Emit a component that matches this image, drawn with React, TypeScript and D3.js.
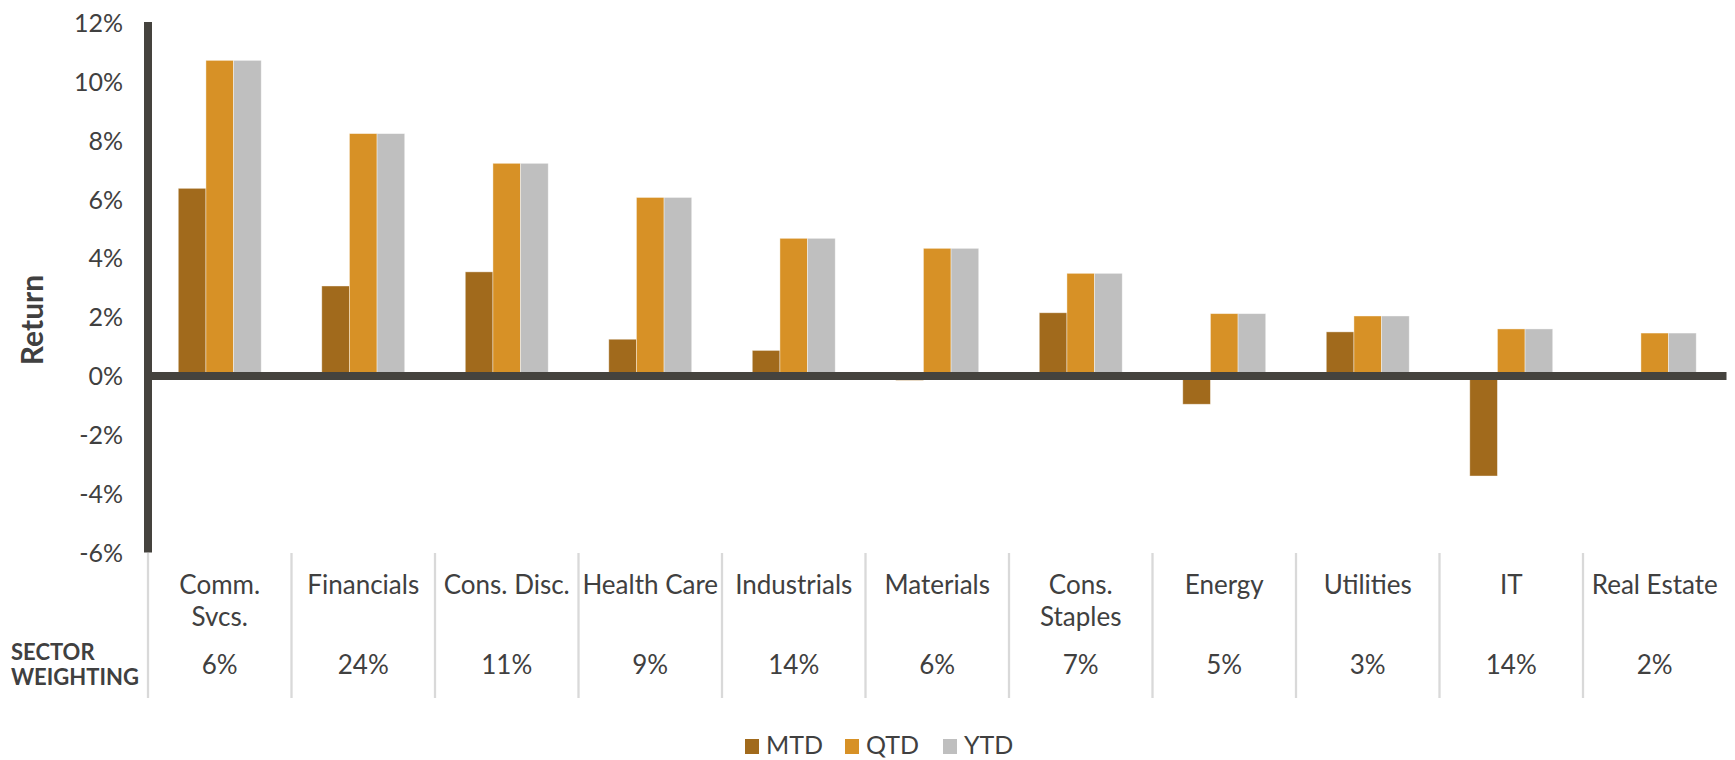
import React, { useEffect, useRef } from 'react';
import * as d3 from 'd3';

const categories = ['Comm.\nSvcs.', 'Financials', 'Cons. Disc.', 'Health Care', 'Industrials', 'Materials', 'Cons.\nStaples', 'Energy', 'Utilities', 'IT', 'Real Estate'];
const weightings = ['6%', '24%', '11%', '9%', '14%', '6%', '7%', '5%', '3%', '14%', '2%'];
const seriesNames = ['MTD', 'QTD', 'YTD'];
const mtd = [6.38, 3.06, 3.54, 1.25, 0.87, -0.15, 2.15, -0.96, 1.5, -3.4, 0];
const qtd = [10.73, 8.24, 7.23, 6.07, 4.68, 4.34, 3.49, 2.12, 2.04, 1.6, 1.46];
const ytd = [10.73, 8.24, 7.23, 6.07, 4.68, 4.34, 3.49, 2.12, 2.04, 1.6, 1.46];
const yTicks = [-6, -4, -2, 0, 2, 4, 6, 8, 10, 12];

const colors = ['#a16a1c', '#d79126', '#bfbfbf'];

export default function App() {
  const svgRef = useRef<SVGSVGElement>(null);

  useEffect(() => {
    if (!svgRef.current) return;
    const width = 1735;
    const height = 760;
    const font = 'Lato, sans-serif';
    const textColor = '#404040';
    const axisColor = '#45433e';

    const svg = d3.select(svgRef.current)
      .attr('width', width)
      .attr('height', height)
      .html('');

    const x0 = d3.scaleBand<string>().domain(categories).range([148, 1726.5]).padding(0);
    const x1 = d3.scaleBand<string>().domain(seriesNames)
      .range([x0.bandwidth() * 0.211, x0.bandwidth() * 0.789]).padding(0);
    const y = d3.scaleLinear().domain([-6, 12]).range([552.5, 23]);

    const series = [mtd, qtd, ytd];

    // bars
    const groups = svg.append('g').selectAll('g')
      .data(categories)
      .enter()
      .append('g')
      .attr('transform', d => `translate(${x0(d)},0)`);

    groups.selectAll('rect')
      .data((_, i) => series.map((s, k) => ({ name: seriesNames[k], v: s[i], k })))
      .enter()
      .append('rect')
      .attr('x', d => x1(d.name)!)
      .attr('width', x1.bandwidth())
      .attr('y', d => y(Math.max(0, d.v)))
      .attr('height', d => Math.abs(y(d.v) - y(0)))
      .attr('fill', d => colors[d.k])
      .attr('stroke', 'rgba(255,255,255,0.5)')
      .attr('stroke-width', 0.8);

    // y axis line
    svg.append('line')
      .attr('x1', 148).attr('x2', 148)
      .attr('y1', y(12) - 1).attr('y2', y(-6))
      .attr('stroke', axisColor).attr('stroke-width', 8);

    // zero line
    svg.append('line')
      .attr('x1', 144).attr('x2', 1726.5)
      .attr('y1', y(0)).attr('y2', y(0))
      .attr('stroke', axisColor).attr('stroke-width', 8);

    // tick labels
    svg.append('g').selectAll('text')
      .data(yTicks)
      .enter()
      .append('text')
      .attr('x', 123)
      .attr('y', d => y(d) + 9)
      .attr('text-anchor', 'end')
      .attr('font-family', font)
      .attr('font-size', 25)
      .attr('fill', textColor)
      .text(d => `${d}%`);

    // y title
    svg.append('text')
      .attr('transform', `translate(43, 320) rotate(-90)`)
      .attr('text-anchor', 'middle')
      .attr('font-family', font)
      .attr('font-weight', 'bold')
      .attr('font-size', 30)
      .attr('fill', textColor)
      .text('Return');

    // separators
    svg.append('g').selectAll('line')
      .data(categories)
      .enter()
      .append('line')
      .attr('x1', d => x0(d)!)
      .attr('x2', d => x0(d)!)
      .attr('y1', 553)
      .attr('y2', 698)
      .attr('stroke', '#d9d9d9')
      .attr('stroke-width', 2.3);

    // category labels
    const cat = svg.append('g').selectAll('text')
      .data(categories)
      .enter()
      .append('text')
      .attr('text-anchor', 'middle')
      .attr('font-family', font)
      .attr('font-size', 26)
      .attr('fill', textColor);
    cat.selectAll('tspan')
      .data(d => d.split('\n').map(line => ({ line, c: d })))
      .enter()
      .append('tspan')
      .attr('x', d => x0(d.c)! + x0.bandwidth() / 2)
      .attr('y', (_, i) => 594 + i * 32)
      .text(d => d.line);

    // weightings
    svg.append('g').selectAll('text')
      .data(weightings)
      .enter()
      .append('text')
      .attr('x', (_, i) => x0(categories[i])! + x0.bandwidth() / 2)
      .attr('y', 674)
      .attr('text-anchor', 'middle')
      .attr('font-family', font)
      .attr('font-size', 26)
      .attr('fill', textColor)
      .text(d => d);

    const sw = svg.append('text')
      .attr('font-family', font)
      .attr('font-weight', 'bold')
      .attr('font-size', 22)
      .attr('fill', textColor);
    sw.append('tspan').attr('x', 11).attr('y', 660).text('SECTOR');
    sw.append('tspan').attr('x', 11).attr('y', 685).text('WEIGHTING');

    // legend
    const legendX = [745, 845, 943];
    const leg = svg.append('g').selectAll('g')
      .data(seriesNames)
      .enter()
      .append('g')
      .attr('transform', (_, i) => `translate(${legendX[i]},0)`);
    leg.append('rect')
      .attr('x', 0).attr('y', 739)
      .attr('width', 14).attr('height', 15)
      .attr('fill', (_, i) => colors[i]);
    leg.append('text')
      .attr('x', 21).attr('y', 754)
      .attr('font-family', font)
      .attr('font-size', 25)
      .attr('fill', textColor)
      .text(d => d);
  }, []);

  return (
    <div style={{ position: 'absolute', left: 0, top: 0 }}>
      <svg ref={svgRef} style={{ display: 'block' }} />
    </div>
  );
}
